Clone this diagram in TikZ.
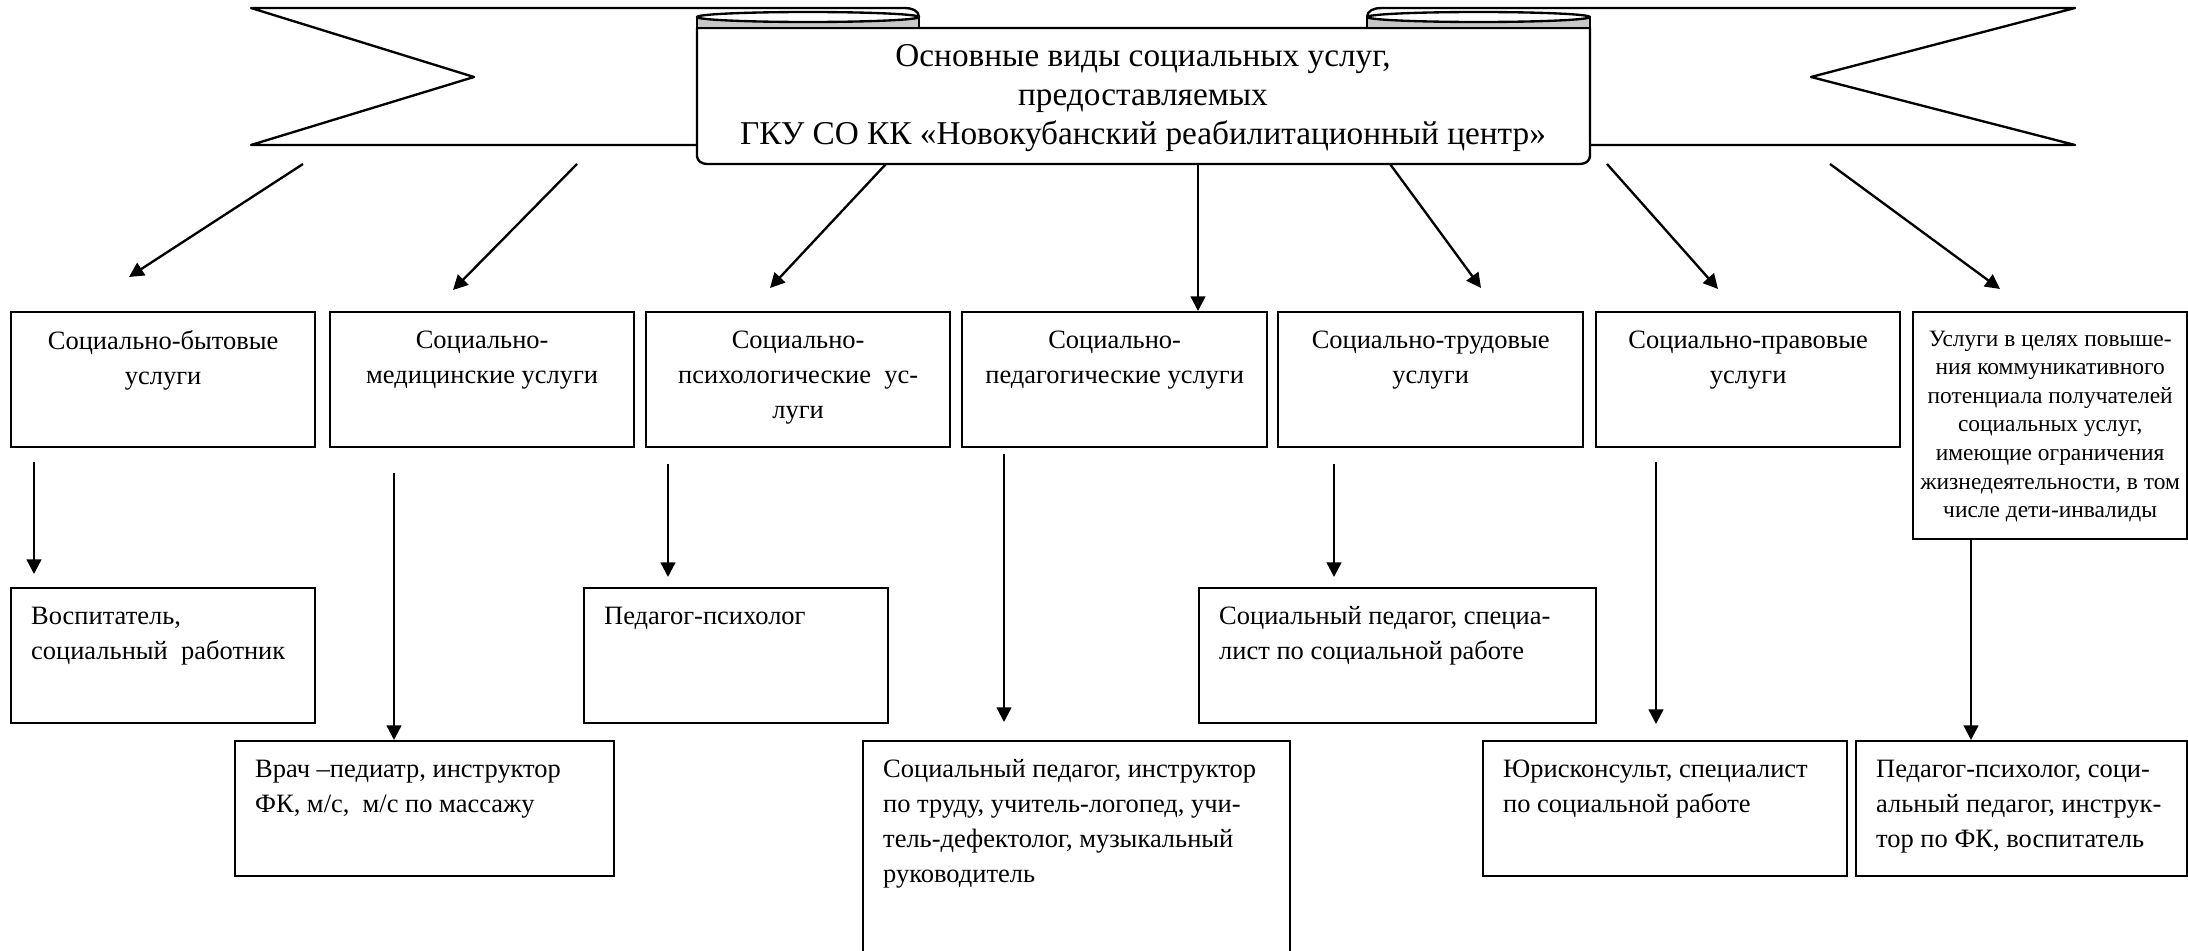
\documentclass[tikz,border=0pt]{standalone}
\usepackage{fontspec}
\setmainfont{Liberation Serif}
\usetikzlibrary{arrows.meta}
\newlength{\unitpx}
\setlength{\unitpx}{0.015cm}
\newcommand{\cellbox}[4][0.3cm]{\begin{minipage}[t][\dimexpr#3\unitpx-0.56cm\relax][t]{\dimexpr#2\unitpx-2\dimexpr#1\relax\relax}#4\end{minipage}}
\tikzset{
    service-box/.style = {draw, line width=1pt, rectangle, anchor=north west, inner xsep=0.3cm, inner ysep=0.28cm, font=\fontsize{11.3}{14.9}\selectfont},
    small-text/.style = {inner xsep=0.1cm, font=\fontsize{10}{12.2}\selectfont},
    title-text/.style = {align=center, font=\fontsize{14.2}{16.8}\selectfont},
    ribbon/.style = {draw, line width=1pt, fill=white, line join=round},
    ribbon-fold/.style = {draw, line width=1pt, fill=black!22},
    link/.style = {line width=1pt, -{Triangle[length=0.22cm, width=0.22cm]}},
}

\begin{document}
\begin{tikzpicture}[x=0.015cm, y=-0.015cm]
\useasboundingbox (0,0) rectangle (2188,950);

\draw[ribbon] (697,145) -- (251,145) -- (474,77) -- (251,8) -- (905,8) to[out=0,in=90] (919,17);
\draw[ribbon] (1590,145) -- (2075,145) -- (1811,77) -- (2075,8) -- (1381,8) to[out=180,in=90] (1367,17);
\draw[ribbon] (697,28) -- (697,156) to[out=-90,in=180] (707,164) -- (1580,164) to[out=0,in=-90] (1590,156) -- (1590,28) -- cycle;
\draw[ribbon-fold] (697,17) rectangle (919,28);
\draw[ribbon-fold] (1367,17) rectangle (1590,28);
\draw[ribbon] (808,17) ellipse [x radius=1.665cm, y radius=0.075cm];
\draw[ribbon] (1478.5,17) ellipse [x radius=1.67cm, y radius=0.075cm];
\node[title-text] (title) at (1143,98) {Основные виды социальных услуг,\\ предоставляемых\\ ГКУ СО КК «Новокубанский реабилитационный центр»};

\node[service-box] (household) at (10,311) {\cellbox{304}{135}{\centering Социально-бытовые\\ услуги}};
\node[service-box] (medical) at (329,311) {\cellbox{304}{135}{\centering Социально-\\ медицинские услуги}};
\node[service-box] (psychological) at (645,311) {\cellbox{304}{135}{\centering Социально-\\ психологические\ \ ус-\\ луги}};
\node[service-box] (pedagogical) at (961,311) {\cellbox{305}{135}{\centering Социально-\\ педагогические услуги}};
\node[service-box] (labour) at (1277,311) {\cellbox{305}{135}{\centering Социально-трудовые\\ услуги}};
\node[service-box] (legal) at (1595,311) {\cellbox{304}{135}{\centering Социально-правовые\\ услуги}};
\node[service-box, small-text] (communicative) at (1912,311) {\cellbox[0.1cm]{274}{227}{\centering Услуги в целях повыше-\\ ния коммуникативного\\ потенциала получателей\\ социальных услуг,\\ имеющие ограничения\\ жизнедеятельности, в том\\ числе дети-инвалиды}};

\node[service-box] (educator) at (10,587) {\cellbox{304}{135}{\raggedright Воспитатель,\\ социальный\ \ работник}};
\node[service-box] (psychologist) at (583,587) {\cellbox{304}{135}{\raggedright Педагог-психолог}};
\node[service-box] (soc-specialist) at (1198,587) {\cellbox{397}{135}{\raggedright Социальный педагог, специа-\\ лист по социальной работе}};
\node[service-box] (doctor) at (234,740) {\cellbox{379}{135}{\raggedright Врач –педиатр, инструктор\\ ФК, м/с,\ \ м/с по массажу}};
\node[service-box] (teachers) at (862,740) {\cellbox{427}{240}{\raggedright Социальный педагог, инструктор\\ по труду, учитель-логопед, учи-\\ тель-дефектолог, музыкальный\\ руководитель}};
\node[service-box] (lawyer) at (1482,740) {\cellbox{364}{135}{\raggedright Юрисконсульт, специалист\\ по социальной работе}};
\node[service-box] (specialists) at (1855,740) {\cellbox{331}{135}{\raggedright Педагог-психолог, соци-\\ альный педагог, инструк-\\ тор по ФК, воспитатель}};

\coordinate (out-household) at (303,164);   \coordinate (in-household) at (129,277);
\coordinate (out-medical) at (577,164);     \coordinate (in-medical) at (453,290);
\coordinate (out-psychological) at (886,164); \coordinate (in-psychological) at (770,288);
\coordinate (out-pedagogical) at (1198,164);
\coordinate (out-labour) at (1390,164);     \coordinate (in-labour) at (1481,288);
\coordinate (out-legal) at (1607,164);      \coordinate (in-legal) at (1718,289);
\coordinate (out-communicative) at (1830,164); \coordinate (in-communicative) at (2000,289);

\draw[link] (out-household) -- (in-household);
\draw[link] (out-medical) -- (in-medical);
\draw[link] (out-psychological) -- (in-psychological);
\draw[link] (out-pedagogical) -- (out-pedagogical |- pedagogical.north);
\draw[link] (out-labour) -- (in-labour);
\draw[link] (out-legal) -- (in-legal);
\draw[link] (out-communicative) -- (in-communicative);

\coordinate (down-educator) at (34,462);       \coordinate (up-educator) at (34,574);
\coordinate (down-doctor) at (394,473);
\coordinate (down-psychologist) at (668,464);  \coordinate (up-psychologist) at (668,577);
\coordinate (down-teachers) at (1004,454);     \coordinate (up-teachers) at (1004,722);
\coordinate (down-soc-specialist) at (1334,464); \coordinate (up-soc-specialist) at (1334,577);
\coordinate (down-lawyer) at (1656,462);       \coordinate (up-lawyer) at (1656,724);

\draw[link] (down-educator) -- (up-educator);
\draw[link] (down-doctor) -- (down-doctor |- doctor.north);
\draw[link] (down-psychologist) -- (up-psychologist);
\draw[link] (down-teachers) -- (up-teachers);
\draw[link] (down-soc-specialist) -- (up-soc-specialist);
\draw[link] (down-lawyer) -- (up-lawyer);
\draw[link] (communicative.south -| 1971,0) -- (specialists.north -| 1971,0);
\end{tikzpicture}
\end{document}
